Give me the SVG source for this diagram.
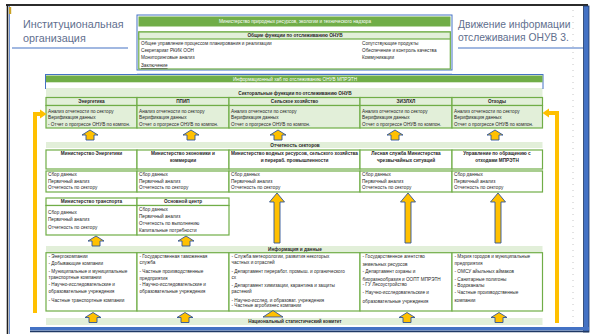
<svg xmlns="http://www.w3.org/2000/svg" xmlns:xlink="http://www.w3.org/1999/xlink" width="594" height="334" viewBox="0 0 594 334">
<style>
.t{font-family:"Liberation Sans",Arial,sans-serif;font-size:4.7px;fill:#262626}
.b{font-weight:bold}
.c{text-anchor:middle}
.w{fill:#fff}
.ttl{font-family:"Liberation Sans",Arial,sans-serif;font-size:10.8px;fill:#5f6f8e}
.ttr{font-family:"Liberation Sans",Arial,sans-serif;font-size:10.3px;fill:#5f6f8e}
.gr{fill:#70ad47}
.lg{fill:#e2efd9}
.box{fill:#fff;stroke:#70ad47;stroke-width:1.2}
.lbox{fill:#e2efd9;stroke:#70ad47;stroke-width:1.2}
.arr{fill:#ffc000;stroke:#2f5597;stroke-width:0.9;stroke-linejoin:miter}
.ol{fill:none;stroke:#ffc000;stroke-width:4}
.oh{fill:#ffc000}
.ul{stroke:#4472c4;stroke-width:1.2}
</style>
<defs>
<path id="sa" d="M0,0 L8,5 L4,5 L4,10 L-4,10 L-4,5 L-8,5 Z"/>
<path id="la" d="M0,0 L7.5,9 L3,9 L3,50 L-3,50 L-3,9 L-7.5,9 Z"/>
</defs>
<rect width="594" height="334" fill="#fff"/>
<!-- slide frame -->
<g id="frame">
<line x1="6" y1="5" x2="588" y2="5" stroke="#2b2b2b" stroke-width="2"/>
<line x1="7.5" y1="5" x2="7.5" y2="334" stroke="#1f1f1f" stroke-width="1.6"/>
<line x1="9.5" y1="6" x2="9.5" y2="334" stroke="#4472c4" stroke-width="0.8"/>
<rect x="9" y="7" width="2.2" height="7" fill="#c9a227"/>
<rect x="583.5" y="6" width="5.5" height="326" fill="#4472c4" stroke="#1f3864" stroke-width="0.8"/>
<rect x="30" y="327" width="559" height="3.5" fill="#4472c4"/>
<line x1="30" y1="331.5" x2="589" y2="331.5" stroke="#1f3864" stroke-width="1.4"/>
<line x1="573" y1="10" x2="573" y2="325" stroke="#b8b8b8" stroke-width="0.8" stroke-dasharray="1 5"/>
</g>
<!-- titles -->
<g id="title-left">
<text class="ttl" x="23" y="28">Институциональная</text>
<text class="ttl" x="23" y="41.5">организация</text>
<line class="ul" x1="12" y1="48" x2="128" y2="48"/>
</g>
<g id="title-right">
<text class="ttr" x="458" y="27.5">Движение информации</text>
<text class="ttr" x="458" y="41">отслеживания ОНУВ 3.</text>
<line class="ul" x1="458" y1="48" x2="583" y2="48"/>
</g>
<!-- top ministry box -->
<g id="ministry">
<rect x="137" y="15" width="315" height="55" fill="#fff" stroke="#4472c4" stroke-width="1"/>
<rect class="gr" x="138.5" y="16.5" width="312" height="10"/>
<text class="t c w" x="295" y="23.3">Министерство природных ресурсов, экологии и технического надзора</text>
<rect class="box" x="138.8" y="32" width="311.5" height="37"/>
<rect class="lbox" x="138.8" y="32" width="311.5" height="7"/>
<text class="t b c" x="295" y="37.4">Общие функции по отслеживанию ОНУВ</text>
<text class="t" x="141" y="45">Общее управление процессом планирования и реализации</text>
<text class="t" x="141" y="52">Секретариат РКИК ООН</text>
<text class="t" x="141" y="59">Мониторинговые анализ</text>
<text class="t" x="141" y="67" text-decoration="underline">Заключение</text>
<text class="t" x="362" y="45">Сопутствующие продукты</text>
<text class="t" x="362" y="52">Обеспечение и контроль качества</text>
<text class="t" x="362" y="59">Коммуникации</text>
</g>
<line x1="137" y1="73.5" x2="452" y2="73.5" stroke="#c9d6ee" stroke-width="0.8"/>
<!-- hub header -->
<g id="hub">
<rect x="45.5" y="74.5" width="497.5" height="14" fill="#fff" stroke="#4472c4" stroke-width="1"/>
<rect class="gr" x="46" y="75.5" width="496.5" height="6.8"/>
<text class="t c w" x="295" y="80.6">Информационный хаб по отслеживанию ОНУВ МПРЭТН</text>
<rect class="lg" x="46" y="88" width="496.5" height="9"/>
<text class="t b c" x="295" y="95">Секторальные функции по отслеживанию ОНУВ</text>
</g>
<!-- sectoral functions -->
<g id="sf-energy">
<rect class="lbox" x="46" y="97.5" width="91" height="8"/>
<text class="t b c" x="91.5" y="103.2">Энергетика</text>
<rect class="lbox" x="46" y="105.5" width="91" height="22.5"/>
<text class="t" x="48" y="112.5">Анализ отчетности по сектору</text>
<text class="t" x="48" y="119">Верификация данных</text>
<text class="t" x="48" y="125.5">- Отчет о прогрессе ОНУВ по компон.</text>
</g>
<g id="sf-ippu">
<rect class="lbox" x="137" y="97.5" width="92" height="8"/>
<text class="t b c" x="183" y="103.2">ППИП</text>
<rect class="lbox" x="137" y="105.5" width="92" height="22.5"/>
<text class="t" x="139" y="112.5">Анализ отчетности по сектору</text>
<text class="t" x="139" y="119">Верификация данных</text>
<text class="t" x="139" y="125.5">Отчет о прогрессе ОНУВ по компон.</text>
</g>
<g id="sf-agri">
<rect class="lbox" x="229" y="97.5" width="131" height="8"/>
<text class="t b c" x="294.5" y="103.2">Сельское хозяйство</text>
<rect class="lbox" x="229" y="105.5" width="131" height="22.5"/>
<text class="t" x="231" y="112.5">Анализ отчетности по сектору</text>
<text class="t" x="231" y="119">Верификация данных</text>
<text class="t" x="231" y="125.5">Отчет о прогрессе ОНУВ по компон.</text>
</g>
<g id="sf-lulucf">
<rect class="lbox" x="360" y="97.5" width="92" height="8"/>
<text class="t b c" x="406" y="103.2">ЗИЗЛХЛ</text>
<rect class="lbox" x="360" y="105.5" width="92" height="22.5"/>
<text class="t" x="362" y="112.5">Анализ отчетности по сектору</text>
<text class="t" x="362" y="119">Верификация данных</text>
<text class="t" x="362" y="125.5">Отчет о прогрессе ОНУВ по компон.</text>
</g>
<g id="sf-waste">
<rect class="lbox" x="452" y="97.5" width="90.5" height="8"/>
<text class="t b c" x="497" y="103.2">Отходы</text>
<rect class="lbox" x="452" y="105.5" width="90.5" height="22.5"/>
<text class="t" x="454" y="112.5">Анализ отчетности по сектору</text>
<text class="t" x="454" y="119">Верификация данных</text>
<text class="t" x="454" y="125.5">Отчет о прогрессе ОНУВ по компон.</text>
</g>
<!-- sector reporting -->
<g id="reporting-bar">
<rect class="lg" x="46" y="142" width="496.5" height="6"/>
<text class="t b c" x="295" y="146.8">Отчетность секторов</text>
</g>
<g id="rep-energy">
<rect class="box" x="46" y="150" width="91" height="19"/>
<text class="t b c" x="91.5" y="155">Министерство Энергетики</text>
<rect class="box" x="46" y="171" width="91" height="21"/>
<text class="t" x="48" y="176">Сбор данных</text>
<text class="t" x="48" y="182.7">Первичный анализ</text>
<text class="t" x="48" y="189.4">Отчетность по сектору</text>
</g>
<g id="rep-economy">
<rect class="box" x="137" y="150" width="92" height="19"/>
<text class="t b c" x="183" y="155">Министерство экономики и</text>
<text class="t b c" x="183" y="161.7">коммерции</text>
<rect class="box" x="137" y="171" width="92" height="21"/>
<text class="t" x="139" y="176">Сбор данных</text>
<text class="t" x="139" y="182.7">Первичный анализ</text>
<text class="t" x="139" y="189.4">Отчетность по сектору</text>
</g>
<g id="rep-water">
<rect class="box" x="229" y="150" width="131" height="19"/>
<text class="t b c" x="294.5" y="155">Министерство водных ресурсов, сельского хозяйства</text>
<text class="t b c" x="294.5" y="161.7">и перераб. промышленности</text>
<rect class="box" x="229" y="171" width="131" height="21"/>
<text class="t" x="231" y="176">Сбор данных</text>
<text class="t" x="231" y="182.7">Первичный анализ</text>
<text class="t" x="231" y="189.4">Отчетность по сектору</text>
</g>
<g id="rep-forest">
<rect class="box" x="360" y="150" width="92" height="19"/>
<text class="t b c" x="406" y="155">Лесная служба Министерства</text>
<text class="t b c" x="406" y="161.7">чрезвычайных ситуаций</text>
<rect class="box" x="360" y="171" width="92" height="21"/>
<text class="t" x="362" y="176">Сбор данных</text>
<text class="t" x="362" y="182.7">Первичный анализ</text>
<text class="t" x="362" y="189.4">Отчетность по сектору</text>
</g>
<g id="rep-waste">
<rect class="box" x="452" y="150" width="90.5" height="19"/>
<text class="t b c" x="497" y="155">Управление по обращению с</text>
<text class="t b c" x="497" y="161.7">отходами МПРЭТН</text>
<rect class="box" x="452" y="171" width="90.5" height="21"/>
<text class="t" x="454" y="176">Сбор данных</text>
<text class="t" x="454" y="182.7">Первичный анализ</text>
<text class="t" x="454" y="189.4">Отчетность по сектору</text>
</g>
<!-- row 3 -->
<g id="rep-transport">
<rect class="box" x="46" y="198" width="91" height="7.5"/>
<text class="t b c" x="91.5" y="203.3">Министерство транспорта</text>
<rect class="box" x="46" y="205.5" width="91" height="29.5"/>
<text class="t" x="48" y="214.3">Сбор данных</text>
<text class="t" x="48" y="221">Первичный анализ</text>
<text class="t" x="48" y="229.3">Отчетность по сектору</text>
</g>
<g id="rep-center">
<rect class="box" x="137" y="198" width="92" height="7.5"/>
<text class="t b c" x="183" y="203.3">Основной центр</text>
<rect class="box" x="137" y="205.5" width="92" height="29.5"/>
<text class="t" x="139" y="210.9">Сбор данных</text>
<text class="t" x="139" y="217.8">Первичный анализ</text>
<text class="t" x="139" y="224.8">Отчетность по выполнению</text>
<text class="t" x="139" y="232.3">Капитальные потребности</text>
</g>
<!-- information and data -->
<g id="data-bar">
<rect class="lg" x="46" y="246" width="496.5" height="6"/>
<text class="t b c" x="295" y="250.8">Информация и данные</text>
</g>
<g id="data-energy">
<rect class="box" x="46" y="252.7" width="91" height="58.3"/>
<text class="t" x="48.5" y="258.3">- Энергокомпании</text>
<text class="t" x="48.5" y="264.9">- Добывающие компании</text>
<text class="t" x="48.5" y="273.3">- Муниципальные и муниципальные</text>
<text class="t" x="48.5" y="279.3">транспортные компании</text>
<text class="t" x="48.5" y="285.9">- Научно-исследовательские и</text>
<text class="t" x="48.5" y="293.3">образовательные учреждения</text>
<text class="t" x="48.5" y="302.3">- Частные транспортные компании</text>
</g>
<g id="data-ippu">
<rect class="box" x="137" y="252.7" width="92" height="58.3"/>
<text class="t" x="139.5" y="258.3">- Государственная таможенная</text>
<text class="t" x="139.5" y="264.3">служба</text>
<text class="t" x="139.5" y="273.3">- Частные производственные</text>
<text class="t" x="139.5" y="279.9">предприятия</text>
<text class="t" x="139.5" y="285.9">- Научно-исследовательские и</text>
<text class="t" x="139.5" y="293.3">образовательные учреждения</text>
</g>
<g id="data-agri">
<rect class="box" x="229" y="252.7" width="131" height="58.3"/>
<text class="t" x="231.5" y="258.3">- Служба метеорологии, развития некоторых</text>
<text class="t" x="231.5" y="264.3">частных и отраслей</text>
<text class="t" x="231.5" y="273.3">- Департамент переработ. промыш. и органического</text>
<text class="t" x="231.5" y="279.3">сх</text>
<text class="t" x="231.5" y="286.6">- Департамент химизации, карантина и защиты</text>
<text class="t" x="231.5" y="293.3">растений</text>
<text class="t" x="231.5" y="302.3">- Научно-исслед. и образоват. учреждения</text>
<text class="t" x="231.5" y="307.3">- Частные агробизнес компании</text>
</g>
<g id="data-lulucf">
<rect class="box" x="360" y="252.7" width="92" height="58.3"/>
<text class="t" x="362.5" y="258.3">- Государственное агентство</text>
<text class="t" x="362.5" y="265.6">земельных ресурсов</text>
<text class="t" x="362.5" y="273.3">- Департамент охраны и</text>
<text class="t" x="362.5" y="280.9">биоразнообразия и ООПТ МПРЭТН</text>
<text class="t" x="362.5" y="285.6">- ГУ Лесоустройство</text>
<text class="t" x="362.5" y="294.3">- Научно-исследовательские и</text>
<text class="t" x="362.5" y="302.6">образовательные учреждения</text>
</g>
<g id="data-waste">
<rect class="box" x="452" y="252.7" width="90.5" height="58.3"/>
<text class="t" x="454.5" y="258.3">- Мэрия городов и муниципальные</text>
<text class="t" x="454.5" y="264.9">предприятия</text>
<text class="t" x="454.5" y="273.3">- ОМСУ айыльных аймаков</text>
<text class="t" x="454.5" y="280.9">- Санитарные полигоны</text>
<text class="t" x="454.5" y="286.6">- Водоканалы</text>
<text class="t" x="454.5" y="294.3">- Частные производственные</text>
<text class="t" x="454.5" y="302.3">компании</text>
</g>
<g id="nsc">
<rect class="lg" x="46" y="318" width="496.5" height="7"/>
<text class="t b c" x="295" y="323.4">Национальный статистический комитет</text>
</g>
<!-- connectors -->
<g id="connectors">
<path class="ol" d="M35,313 L35,114 L41,114"/>
<path class="oh" d="M40,109.5 L46.5,114 L40,118.5 Z"/>
<path class="ol" d="M557,323 L557,113 L548,113"/>
<path class="oh" d="M549,108.5 L542.5,113 L549,117.5 Z"/>
<use href="#sa" xlink:href="#sa" class="arr" x="90" y="130"/>
<use href="#sa" xlink:href="#sa" class="arr" x="191" y="130"/>
<use href="#sa" xlink:href="#sa" class="arr" x="278" y="130"/>
<use href="#sa" xlink:href="#sa" class="arr" x="395" y="130"/>
<use href="#sa" xlink:href="#sa" class="arr" x="495" y="130"/>
<use href="#la" xlink:href="#la" class="arr" x="277" y="193"/>
<use href="#la" xlink:href="#la" class="arr" x="408" y="193"/>
<use href="#la" xlink:href="#la" class="arr" x="498" y="193"/>
<use href="#sa" xlink:href="#sa" class="arr" x="96" y="236"/>
<use href="#sa" xlink:href="#sa" class="arr" x="186" y="236"/>
<use href="#sa" xlink:href="#sa" class="arr" x="93" y="312.5"/>
<use href="#sa" xlink:href="#sa" class="arr" x="185" y="312.5"/>
<path class="arr" d="M273,310.5 L283,317 L263,317 Z"/>
<use href="#sa" xlink:href="#sa" class="arr" x="407" y="312.5"/>
<use href="#sa" xlink:href="#sa" class="arr" x="499" y="312.5"/>
</g>
</svg>
